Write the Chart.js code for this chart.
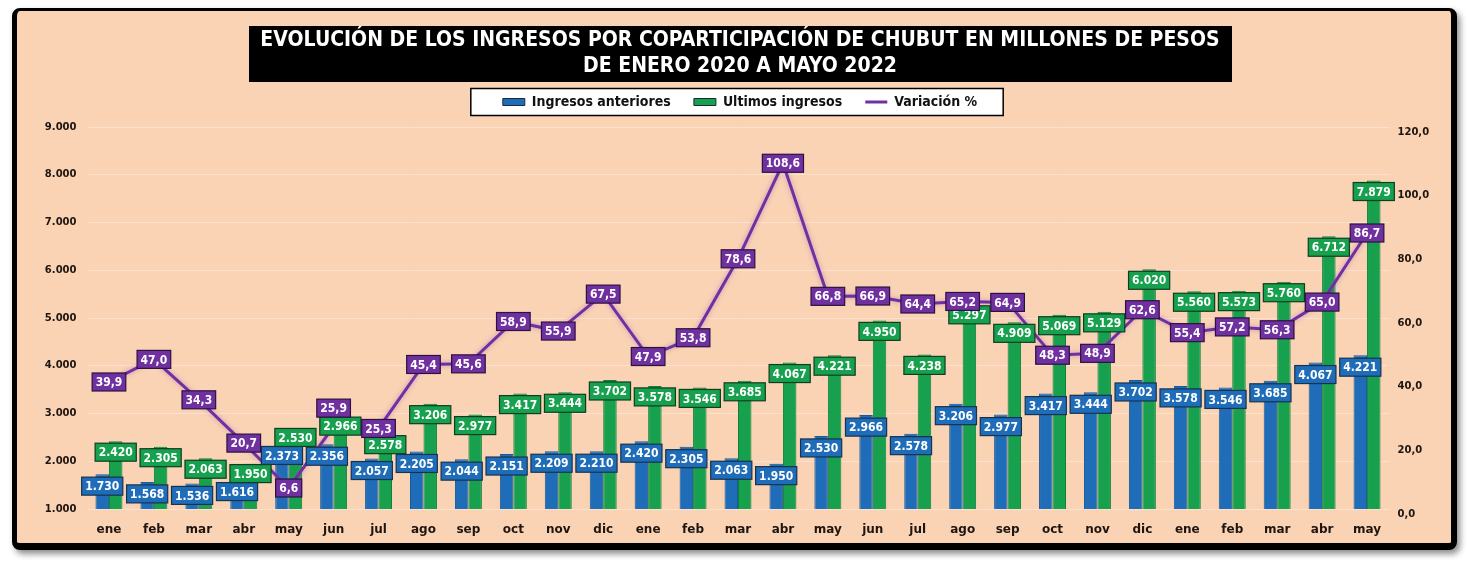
<!DOCTYPE html>
<html lang="es">
<head>
<meta charset="utf-8">
<title>Ingresos por coparticipación Chubut</title>
<script src="https://cdn.jsdelivr.net/npm/chart.js@4.4.1/dist/chart.umd.min.js"></script>
<style>
  html, body { margin: 0; padding: 0; background: #fff; }
  #marco {
    position: absolute;
    left: 12px; top: 8px;
    width: 1434px; height: 532px;
    border-style: solid;
    border-color: #000;
    border-width: 3px 6px 7px 5px;
    border-radius: 8px;
    background: #fad3b4;
    box-shadow: 3px 4px 6px rgba(0, 0, 0, 0.45);
  }
</style>
</head>
<body>
<div id="marco"><canvas id="grafico"></canvas></div>
<script>
const meses = ["ene", "feb", "mar", "abr", "may", "jun", "jul", "ago", "sep", "oct", "nov", "dic",
               "ene", "feb", "mar", "abr", "may", "jun", "jul", "ago", "sep", "oct", "nov", "dic",
               "ene", "feb", "mar", "abr", "may"];

const ingresosAnteriores = [1730, 1568, 1536, 1616, 2373, 2356, 2057, 2205, 2044, 2151, 2209, 2210,
                            2420, 2305, 2063, 1950, 2530, 2966, 2578, 3206, 2977, 3417, 3444, 3702,
                            3578, 3546, 3685, 4067, 4221];

const ultimosIngresos = [2420, 2305, 2063, 1950, 2530, 2966, 2578, 3206, 2977, 3417, 3444, 3702,
                         3578, 3546, 3685, 4067, 4221, 4950, 4238, 5297, 4909, 5069, 5129, 6020,
                         5560, 5573, 5760, 6712, 7879];

const variacion = [39.9, 47.0, 34.3, 20.7, 6.6, 25.9, 25.3, 45.4, 45.6, 58.9, 55.9, 67.5,
                   47.9, 53.8, 78.6, 108.6, 66.8, 66.9, 64.4, 65.2, 64.9, 48.3, 48.9, 62.6,
                   55.4, 57.2, 56.3, 65.0, 86.7];

const titulo = ["EVOLUCIÓN DE LOS INGRESOS POR COPARTICIPACIÓN DE CHUBUT EN MILLONES DE PESOS",
                "DE ENERO 2020 A MAYO 2022"];

const FUENTE = "'Liberation Sans Narrow', 'DejaVu Sans Condensed', sans-serif";
const FUENTE_EJES = "'DejaVu Sans', sans-serif";

const AZUL = "#1f6db8";
const VERDE = "#17a04d";
const VIOLETA = "#7030a0";

function miles(v) {
    return String(Math.round(v)).replace(/\B(?=(\d{3})+(?!\d))/g, ".");
}

function decimal(v) {
    return v.toFixed(1).replace(".", ",");
}

function caja(ctx, texto, x, y, relleno, borde) {
    const w = ctx.measureText(texto).width + 7;
    const h = 18;
    ctx.fillStyle = relleno;
    ctx.fillRect(x - w / 2, y - h / 2, w, h);
    ctx.strokeStyle = borde;
    ctx.lineWidth = 1.2;
    ctx.strokeRect(x - w / 2, y - h / 2, w, h);
    ctx.fillStyle = "#fff";
    ctx.fillText(texto, x, y + 1);
}

// fondo negro del título y recuadro blanco de la leyenda
const fondos = {
    id: "fondos",
    beforeDraw(chart) {
        const ctx = chart.ctx;
        const t = chart.titleBlock;
        const cx = (t.left + t.right) / 2;
        ctx.save();
        ctx.fillStyle = "#000";
        ctx.fillRect(cx - 491, t.top + 15, 983, 56);

        const cajas = chart.legend.legendHitBoxes;
        if (cajas.length) {
            const izq = Math.min(...cajas.map(b => b.left));
            const der = Math.max(...cajas.map(b => b.left + b.width));
            const medio = cajas[0].top + cajas[0].height / 2;
            ctx.fillStyle = "#fff";
            ctx.fillRect(izq - 32, medio - 13.5, der - izq + 58, 27);
            ctx.strokeStyle = "#000";
            ctx.lineWidth = 1.5;
            ctx.strokeRect(izq - 32, medio - 13.5, der - izq + 58, 27);
        }
        ctx.restore();
    }
};

// brillo suave alrededor de la línea
const brillo = {
    id: "brillo",
    beforeDatasetDraw(chart, args) {
        if (args.meta.type === "line") {
            chart.ctx.save();
            chart.ctx.shadowColor = "rgba(150, 90, 200, 0.55)";
            chart.ctx.shadowBlur = 5;
        }
    },
    afterDatasetDraw(chart, args) {
        if (args.meta.type === "line") {
            chart.ctx.restore();
        }
    }
};

// etiquetas de datos con recuadro
const etiquetas = {
    id: "etiquetas",
    afterDatasetsDraw(chart) {
        const ctx = chart.ctx;
        ctx.save();
        ctx.font = "bold 12px " + FUENTE;
        ctx.textAlign = "center";
        ctx.textBaseline = "middle";

        const azules = chart.getDatasetMeta(0).data;
        const verdesY = [];
        azules.forEach((el, i) => {
            caja(ctx, miles(ingresosAnteriores[i]), el.x, el.y + 12, AZUL, "#17324f");
        });
        chart.getDatasetMeta(1).data.forEach((el, i) => {
            // si choca con la etiqueta azul, se sube por encima
            const y = Math.min(el.y + 11, azules[i].y + 12 - 18);
            verdesY[i] = y;
            caja(ctx, miles(ultimosIngresos[i]), el.x, y, VERDE, "#0f3d22");
        });
        chart.getDatasetMeta(2).data.forEach((el, i) => {
            // si tapa la etiqueta verde, se coloca encima de ella
            const y = Math.abs(el.y - verdesY[i]) < 10 ? verdesY[i] - 18 : el.y;
            caja(ctx, decimal(variacion[i]), el.x, y, VIOLETA, "#2a1240");
        });
        ctx.restore();
    }
};

const leyendaBase = Chart.defaults.plugins.legend.labels.generateLabels;

new Chart(document.getElementById("grafico"), {
    data: {
        labels: meses,
        datasets: [
            {
                type: "bar",
                label: "Ingresos anteriores",
                data: ingresosAnteriores,
                backgroundColor: AZUL,
                borderColor: "#175a99",
                borderWidth: 1,
                pointStyle: "rect",
                yAxisID: "y",
                order: 1,
                barPercentage: 1,
                categoryPercentage: 0.6,
            },
            {
                type: "bar",
                label: "Ultimos ingresos",
                data: ultimosIngresos,
                backgroundColor: VERDE,
                borderColor: "#0e8139",
                borderWidth: 1,
                pointStyle: "rect",
                yAxisID: "y",
                order: 1,
                barPercentage: 1,
                categoryPercentage: 0.6,
            },
            {
                type: "line",
                label: "Variación %",
                data: variacion,
                borderColor: VIOLETA,
                backgroundColor: VIOLETA,
                borderWidth: 3,
                pointRadius: 0,
                pointStyle: "line",
                tension: 0,
                yAxisID: "y1",
                order: 0,
            },
        ],
    },
    options: {
        responsive: true,
        maintainAspectRatio: false,
        animation: false,
        layout: {
            padding: { left: 12, right: 0, top: 0, bottom: 0 },
        },
        plugins: {
            title: {
                display: true,
                text: titulo,
                color: "#fff",
                font: { family: FUENTE, size: 21, weight: "bold", lineHeight: 1.25 },
                padding: { top: 16.5, bottom: 5 },
            },
            // separador vacío entre la leyenda y el área de trazado
            subtitle: {
                display: true,
                text: "",
                weight: 500,
                font: { size: 8, lineHeight: 1 },
                padding: 0,
            },
            legend: {
                display: true,
                labels: {
                    usePointStyle: true,
                    pointStyleWidth: 22,
                    boxHeight: 7,
                    padding: 10,
                    color: "#111",
                    font: { family: FUENTE, size: 14, weight: "bold" },
                    sort: (a, b) => a.datasetIndex - b.datasetIndex,
                    generateLabels(chart) {
                        const items = leyendaBase(chart);
                        items.forEach(it => {
                            if (it.datasetIndex < 2) {
                                it.text = it.text + "   ";
                                it.strokeStyle = "#1a2a3a";
                                it.lineWidth = 1;
                            }
                        });
                        return items;
                    },
                },
            },
            tooltip: { enabled: false },
        },
        scales: {
            x: {
                grid: { display: false },
                border: { display: false },
                ticks: {
                    color: "#1e1510",
                    padding: 6,
                    font: { family: FUENTE_EJES, size: 12, weight: "bold" },
                },
                afterFit(scale) { scale.height = 34; },
            },
            y: {
                position: "left",
                min: 1000,
                max: 9000,
                ticks: {
                    stepSize: 1000,
                    color: "#1e1510",
                    padding: 10,
                    font: { family: FUENTE_EJES, size: 10, weight: "bold" },
                    callback: v => miles(v),
                },
                grid: { color: "rgba(255, 255, 255, 0.35)", drawTicks: false },
                border: { display: false },
                afterFit(scale) { scale.width = 57.5; },
            },
            y1: {
                position: "right",
                min: 0,
                max: 120,
                ticks: {
                    stepSize: 20,
                    color: "#1e1510",
                    padding: 8,
                    align: "start",
                    font: { family: FUENTE_EJES, size: 10, weight: "bold" },
                    callback: v => decimal(v),
                },
                grid: { display: false, drawTicks: false },
                border: { display: false },
                afterFit(scale) { scale.width = 61.5; },
            },
        },
    },
    plugins: [fondos, brillo, etiquetas],
});
</script>
</body>
</html>
